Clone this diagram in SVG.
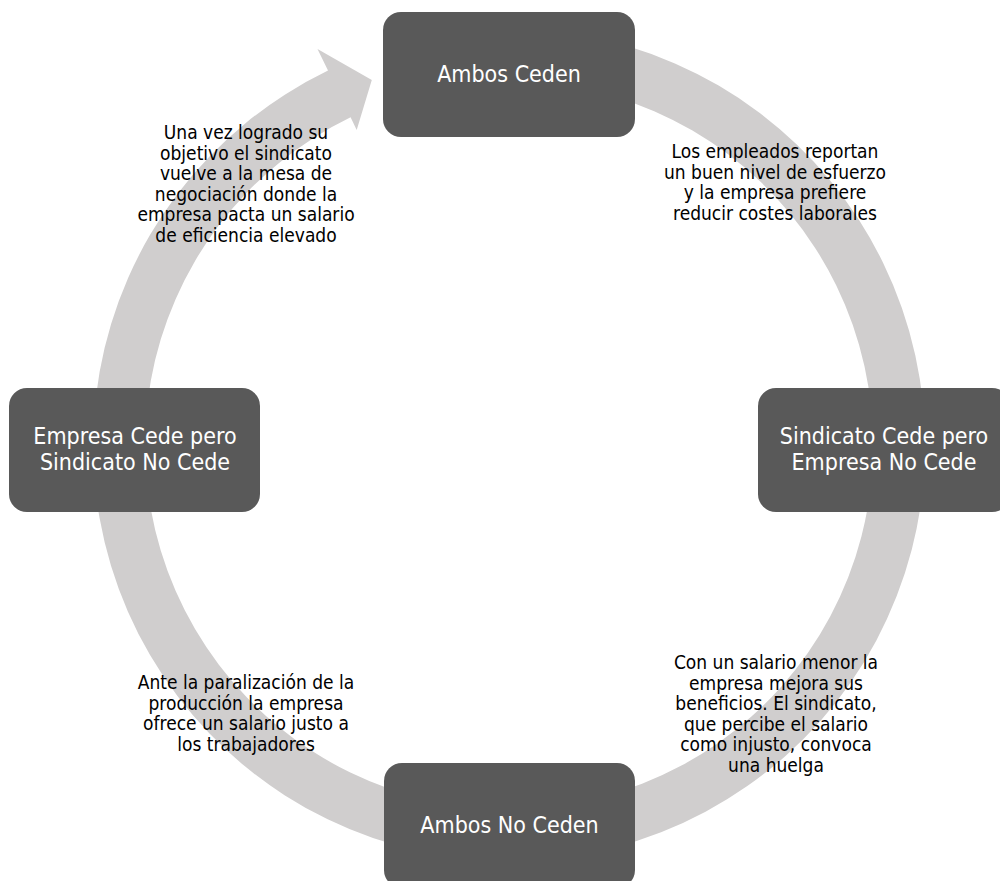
<svg xmlns="http://www.w3.org/2000/svg" width="1000" height="881" viewBox="0 0 1000 881">
<style>
.ring{fill:#d0cece;stroke:none}
.box{fill:#595959;stroke:none}
.bt{font-family:"DejaVu Sans Condensed","Liberation Sans",sans-serif;font-size:23px;fill:#ffffff;text-anchor:middle}
.lt{font-family:"DejaVu Sans Condensed","Liberation Sans",sans-serif;font-size:19px;fill:#000000;text-anchor:middle}
</style>
<rect width="1000" height="881" fill="#ffffff"/>
<g id="connectors">
<path class="ring" d="M581.2,35.3 A416,416 0 1,1 328.0,70.5 L317.5,49 L371.8,79.9 L356.7,129.9 L350.6,117.3 A364,364 0 1,0 572.2,86.5 Z"/>
</g>
<g id="label-tr">
<text class="lt" x="775" y="158">Los empleados reportan</text>
<text class="lt" x="775" y="178.5">un buen nivel de esfuerzo</text>
<text class="lt" x="775" y="199">y la empresa prefiere</text>
<text class="lt" x="775" y="219.5">reducir costes laborales</text>
</g>
<g id="label-br">
<text class="lt" x="776" y="669">Con un salario menor la</text>
<text class="lt" x="776" y="689.5">empresa mejora sus</text>
<text class="lt" x="776" y="710">beneficios. El sindicato,</text>
<text class="lt" x="776" y="730.5">que percibe el salario</text>
<text class="lt" x="776" y="751">como injusto, convoca</text>
<text class="lt" x="776" y="771.5">una huelga</text>
</g>
<g id="label-bl">
<text class="lt" x="246" y="689">Ante la paralización de la</text>
<text class="lt" x="246" y="709.5">producción la empresa</text>
<text class="lt" x="246" y="730">ofrece un salario justo a</text>
<text class="lt" x="246" y="750.5">los trabajadores</text>
</g>
<g id="label-tl">
<text class="lt" x="246" y="139">Una vez logrado su</text>
<text class="lt" x="246" y="159.5">objetivo el sindicato</text>
<text class="lt" x="246" y="180">vuelve a la mesa de</text>
<text class="lt" x="246" y="200.5">negociación donde la</text>
<text class="lt" x="246" y="221">empresa pacta un salario</text>
<text class="lt" x="246" y="241.5">de eficiencia elevado</text>
</g>
<g id="node-top">
<rect class="box" x="383" y="12" width="252" height="125" rx="18"/>
<text class="bt" x="509" y="82">Ambos Ceden</text>
</g>
<g id="node-right">
<rect class="box" x="758" y="388" width="252" height="124" rx="18"/>
<text class="bt" x="884" y="444">Sindicato Cede pero</text>
<text class="bt" x="884" y="470">Empresa No Cede</text>
</g>
<g id="node-bottom">
<rect class="box" x="384" y="763" width="251" height="125" rx="18"/>
<text class="bt" x="509.5" y="833">Ambos No Ceden</text>
</g>
<g id="node-left">
<rect class="box" x="9" y="388" width="251" height="124" rx="18"/>
<text class="bt" x="135" y="444">Empresa Cede pero</text>
<text class="bt" x="135" y="470">Sindicato No Cede</text>
</g>
</svg>
